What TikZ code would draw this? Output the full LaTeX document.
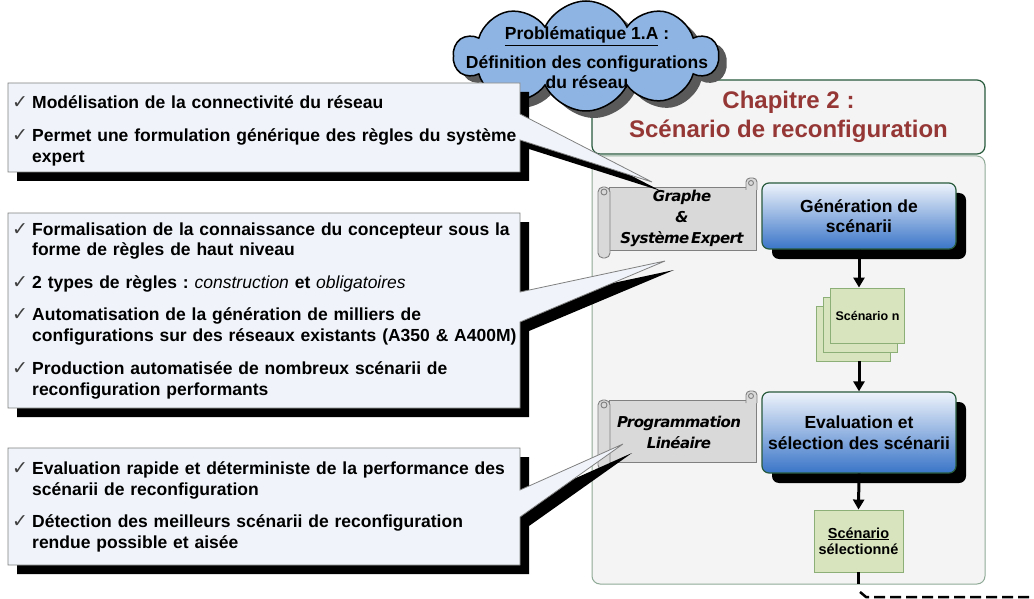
\documentclass[tikz,border=0pt]{standalone}
\usepackage{fontspec}
\setmainfont{Liberation Sans}
\newfontfamily\symbfont{DejaVu Sans}
\newfontfamily\rouleaufont[LetterSpace=-4,WordSpace=0.4]{DejaVu Sans}
\usetikzlibrary{arrows.meta,positioning,calc,shapes.symbols,shadows}

\definecolor{fondcadre}{RGB}{244,244,244}
\definecolor{bordcadre}{RGB}{143,170,150}
\definecolor{bordentete}{RGB}{40,90,60}
\definecolor{rougechap}{RGB}{149,55,53}
\definecolor{bleunuage}{RGB}{141,180,226}
\definecolor{fondbulle}{RGB}{240,244,250}
\definecolor{gristrait}{RGB}{128,128,128}
\definecolor{grisrouleau}{RGB}{217,217,217}
\definecolor{vertpage}{RGB}{215,228,189}
\definecolor{vertbord}{RGB}{140,175,120}
\definecolor{bleuhaut}{RGB}{238,243,251}
\definecolor{bleubas}{RGB}{58,117,200}

% puce cochee avec retrait
\newcommand\coche[1]{\par\setlength\parskip{11.5pt}\hangindent=20pt\hangafter=1%
  \noindent\makebox[20pt][l]{\symbfont\fontsize{19}{19}\selectfont\color{black!75}✓}#1\par}

% bulle : x1,y1,x2,y2, base haute, base basse, pointe
\newcommand\bulle[7]{%
  \fill[black,shift={(9,9)}] (#1,#2) -- (#3,#2) -- (#3,#5) -- #7 -- (#3,#6) -- (#3,#4) -- (#1,#4) -- cycle;
  \draw[fill=fondbulle,draw=gristrait,line width=.8pt] (#1,#2) -- (#3,#2) -- (#3,#5) -- #7 -- (#3,#6) -- (#3,#4) -- (#1,#4) -- cycle;
}

% rouleau : haut et bas du corps
\newcommand\parchemin[2]{%
  \draw[rouleau] (609,#1) rectangle (756,#2);
  \draw[rouleau,rounded corners=4pt] (746,#1+3) -- (746,#1-9) -- (757,#1-9) -- (757,#1+3);
  \draw[rouleau] (751,#1-4) circle (2.5);
  \draw[rouleau,rounded corners=5pt] (598,#1) rectangle (610,#2+8);
  \draw[rouleau] (604,#1+5) circle (3);
}

\begin{document}
\begin{tikzpicture}[x=1pt,y=-1pt,
  every node/.style={inner sep=0pt},
  rouleau/.style={fill=grisrouleau,draw=gristrait,line width=.9pt},
  texte/.style={text width=530pt,font=\fontsize{17.5}{21}\selectfont\bfseries\frenchspacing},
  titrerouleau/.style={align=center,font=\rouleaufont\fontsize{15}{21}\selectfont\bfseries\itshape},
  etape/.style={draw=bordentete,line width=1.2pt,rounded corners=7pt,top color=bleuhaut,bottom color=bleubas,
    minimum width=194pt,align=center,font=\fontsize{17.5}{20.5}\selectfont\bfseries,
    drop shadow={shadow xshift=10pt,shadow yshift=-10pt,fill=black,opacity=1}},
  page/.style={draw=vertbord,fill=vertpage,line width=.9pt,minimum width=74pt,minimum height=55pt,align=center},
  fleche/.style={line width=3pt,-{Triangle[length=10pt,width=11pt]}},
  tirets/.style={line width=2.5pt,dash pattern=on 11pt off 5pt}]
\useasboundingbox (0,0) rectangle (1034,599);

% cadre du chapitre
\draw[fill=fondcadre,draw=bordcadre,line width=1pt,rounded corners=8pt] (592,156) rectangle (985,584);
\node[draw=bordentete,fill=fondcadre,line width=1.2pt,rounded corners=8pt,minimum width=393pt,minimum height=74pt,
  align=center,text=rougechap,font=\fontsize{24}{29}\selectfont\bfseries] (chap) at (788.5,117)
  {Chapitre 2 :\\Scénario de reconfiguration};

% outils
\parchemin{187}{250}
\node[titrerouleau] (graphe) at (682,218) {Graphe\\\&\\Système Expert};
\parchemin{400}{462}
\node[titrerouleau] (progl) at (679,432) {Programmation\\Linéaire};

% chaine de traitement
\node[etape,minimum height=66pt] (gen) at (859,216) {Génération de\\scénarii};
\node[page] (scnc) at (853,333.5) {};
\node[page] (scnb) at (860,324.5) {};
\node[page,font=\fontsize{12.5}{15}\selectfont\bfseries] (scn) at (867.5,315.5) {Scénario n};
\node[etape,minimum height=81pt] (eval) at (859,432.5) {Evaluation et\\sélection des scénarii};
\node[page,minimum width=89pt,minimum height=62pt,font=\fontsize{14.5}{16.5}\selectfont\bfseries] (sel)
  at (858.5,541) {\underline{Scénario}\\sélectionné};
\coordinate (sortie) at (858.5,584);
\coordinate (reprise) at (860,592);
\coordinate (horsbord) at (1040,597);

\draw[fleche] (gen.south) -- (gen.south |- scn.north);
\draw[fleche] (gen.south |- scnc.south) -- (eval.north);
\draw[fleche] (eval.south) -- (sel.north);
\draw[line width=3pt] (sel.south) -- (sortie);
\draw[tirets] (reprise) -- ++(6,5) -- (horsbord);

% problematique
\node[cloud,cloud puffs=10,cloud puff arc=130,aspect=2.6,minimum width=264pt,minimum height=110pt,fill=bleunuage,draw=black,
  line width=1.5pt,drop shadow={shadow xshift=8pt,shadow yshift=-7pt,fill=black!65,opacity=1}] (nuage) at (586,56) {};
\node[align=center,font=\fontsize{17.5}{20}\selectfont\bfseries] (probtxt) at (587,58)
  {\underline{Problématique 1.A} :\\[9pt]Définition des configurations\\du réseau};

% bulles
\bulle{8}{83}{520}{172}{114}{140}{(652,182)}
\node[texte,anchor=base west] (graphetxt) at (12,76.5) {%
  \coche{Modélisation de la connectivité du réseau}
  \coche{Permet une formulation générique des règles du système\newline expert}};

\bulle{8}{213}{520}{408}{292}{322}{(665,261)}
\node[texte,anchor=base west] (regles) at (12,202.5) {%
  \coche{Formalisation de la connaissance du concepteur sous la\newline forme de règles de haut niveau}
  \coche{2 types de règles : {\mdseries\itshape construction} et {\mdseries\itshape obligatoires}}
  \coche{Automatisation de la génération de milliers de\newline configurations sur des réseaux existants (A350 \& A400M)}
  \coche{Production automatisée de nombreux scénarii de\newline reconfiguration performants}};

\bulle{8}{448}{520}{565}{490}{517}{(623,444)}
\node[texte,anchor=base west] (evaltxt) at (12,441.5) {%
  \coche{Evaluation rapide et déterministe de la performance des\newline scénarii de reconfiguration}
  \coche{Détection des meilleurs scénarii de reconfiguration\newline rendue possible et aisée}};
\end{tikzpicture}
\end{document}
